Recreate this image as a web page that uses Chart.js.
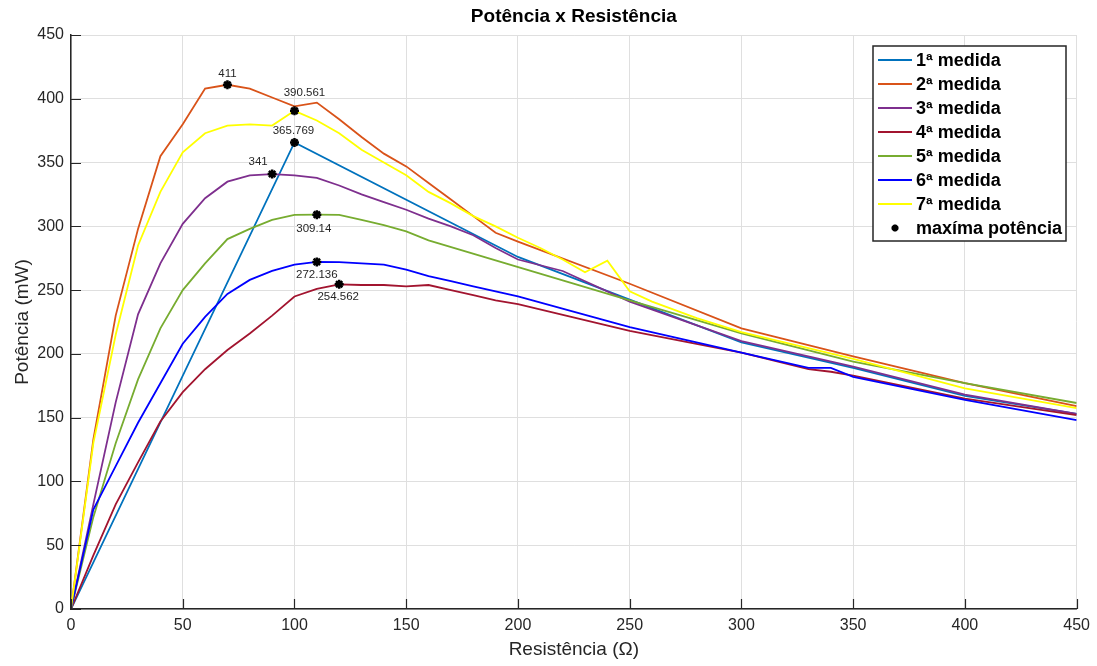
<!DOCTYPE html>
<html>
<head>
<meta charset="utf-8">
<script src="https://cdn.jsdelivr.net/npm/chart.js@4.4.1/dist/chart.umd.min.js"></script>
<style>
  html, body { margin: 0; padding: 0; background: #fff; }
</style>
</head>
<body>
<canvas id="myChart" width="1097" height="666"></canvas>
<script>
// Resistência (Ω) / Potência (mW) por medida
const seriesLabels = ['1ª medida', '2ª medida', '3ª medida', '4ª medida', '5ª medida', '6ª medida', '7ª medida'];
const seriesColors = ['#0072BD', '#D95319', '#7E2F8E', '#A2142F', '#77AC30', '#0000FF', '#FFFF00'];

const r1 = [0, 100, 200, 300, 350, 400, 450];
const p1 = [0, 365.769, 276, 209, 189, 167, 153];

const r2 = [0, 10, 20, 30, 40, 50, 60, 70, 80, 90, 100, 110, 120, 130, 140, 150, 160, 170, 180, 190, 200, 250, 300, 350, 400, 450];
const p2 = [0, 133, 230, 298, 355, 380, 408, 411, 408, 401, 394, 397, 384, 370, 357, 347, 334, 321, 308, 295, 288, 255, 220, 198, 177, 159];

const r3 = [0, 10, 20, 30, 40, 50, 60, 70, 80, 90, 100, 110, 120, 130, 140, 150, 160, 170, 180, 190, 200, 220, 250, 300, 350, 400, 450];
const p3 = [0, 82, 162, 231, 271, 302, 322, 335, 340, 341, 340, 338, 332, 325, 319, 313, 306, 300, 293, 283, 274, 265, 241, 210, 190, 168, 153];

const r4 = [0, 10, 20, 30, 40, 50, 60, 70, 80, 90, 100, 110, 120, 130, 140, 150, 160, 170, 180, 190, 200, 250, 300, 330, 340, 350, 400, 450];
const p4 = [0, 42, 82, 115, 147, 170, 188, 203, 216, 230, 245, 251, 254.562, 254, 254, 253, 254, 250, 246, 242, 239, 218, 201, 188, 186, 183, 165, 152];

const r5 = [0, 10, 20, 30, 40, 50, 60, 70, 80, 90, 100, 110, 120, 130, 140, 150, 160, 250, 300, 350, 400, 450];
const p5 = [0, 72, 130, 180, 220, 250, 271, 290, 298, 305, 309, 309.14, 309, 305, 301, 296, 289, 242, 216, 194, 177, 161.5];

const r6 = [0, 10, 20, 30, 40, 50, 60, 70, 80, 90, 100, 110, 120, 130, 140, 150, 160, 170, 180, 190, 200, 250, 300, 330, 340, 350, 400, 450];
const p6 = [0, 78, 112, 146, 177, 208, 229, 247, 258, 265, 270, 272.136, 272, 271, 270, 266, 261, 257, 253, 249, 245, 221, 201, 189, 189, 182, 164, 148];

const r7 = [0, 10, 20, 30, 40, 50, 60, 70, 80, 90, 100, 110, 120, 130, 140, 150, 160, 170, 180, 190, 200, 210, 220, 230, 240, 250, 260, 280, 300, 350, 400, 450];
const p7 = [0, 130, 215, 285, 327, 358, 373, 379, 380, 379, 390.561, 383, 373, 360, 350, 340, 327, 318, 308, 300, 291, 283, 274, 264, 273, 249, 241, 228, 217, 196, 173, 157.5];

// pontos de máxima potência
const maxR = [70, 100, 100, 90, 110, 110, 120];
const maxP = [411, 390.561, 365.769, 341, 309.14, 272.136, 254.562];

const xTicks = [0, 50, 100, 150, 200, 250, 300, 350, 400, 450];
const yTicks = [0, 50, 100, 150, 200, 250, 300, 350, 400, 450];

const rs = [r1, r2, r3, r4, r5, r6, r7];
const ps = [p1, p2, p3, p4, p5, p6, p7];

const fontFamily = "'Liberation Sans', Arial, sans-serif";
const axisColor = '#262626';

const toXY = (xs, ys) => xs.map((x, i) => ({ x: x, y: ys[i] }));

const datasets = seriesLabels.map((label, i) => ({
	type: 'line',
	label: label,
	data: toXY(rs[i], ps[i]),
	borderColor: seriesColors[i],
	backgroundColor: seriesColors[i],
	borderWidth: 1.8,
	pointRadius: 0,
	tension: 0,
	order: 7 - i
}));

datasets.push({
	type: 'scatter',
	label: 'maxíma potência',
	data: toXY(maxR, maxP),
	showLine: false,
	pointStyle: 'star',
	pointRadius: 4.5,
	borderWidth: 2.5,
	borderColor: '#000',
	backgroundColor: '#000',
	order: 0
});

// label offsets (px) for the max-power annotations
const labelOffsets = [[0, -11], [10, -18], [-1, -12], [-14, -12], [-3, 14], [0, 13], [-1, 13]];

const drawStar = (ctx, x, y, r) => {
	ctx.beginPath();
	ctx.moveTo(x - r, y); ctx.lineTo(x + r, y);
	ctx.moveTo(x, y - r); ctx.lineTo(x, y + r);
	const d = r * Math.SQRT1_2;
	ctx.moveTo(x - d, y - d); ctx.lineTo(x + d, y + d);
	ctx.moveTo(x - d, y + d); ctx.lineTo(x + d, y - d);
	ctx.stroke();
};

const extrasPlugin = {
	id: 'extras',
	afterDatasetsDraw(chart) {
		const ctx = chart.ctx;
		const xs = chart.scales.x, ys = chart.scales.y;
		const area = chart.chartArea;
		ctx.save();

		// title, centred over the plot area
		ctx.fillStyle = '#000';
		ctx.font = 'bold 19px ' + fontFamily;
		ctx.textAlign = 'center';
		ctx.textBaseline = 'middle';
		ctx.fillText('Potência x Resistência', (area.left + area.right) / 2, 17);

		// inner tick marks
		ctx.strokeStyle = axisColor;
		ctx.lineWidth = 1.2;
		ctx.beginPath();
		xTicks.forEach(v => {
			const px = Math.round(xs.getPixelForValue(v)) + 0.5;
			ctx.moveTo(px, area.bottom);
			ctx.lineTo(px, area.bottom - 10);
		});
		yTicks.forEach(v => {
			const py = Math.round(ys.getPixelForValue(v)) + 0.5;
			ctx.moveTo(area.left, py);
			ctx.lineTo(area.left + 10, py);
		});
		ctx.stroke();

		// annotations
		ctx.fillStyle = axisColor;
		ctx.font = '11.5px ' + fontFamily;
		maxP.forEach((v, i) => {
			const px = xs.getPixelForValue(maxR[i]);
			const py = ys.getPixelForValue(v);
			ctx.fillText(String(v), px + labelOffsets[i][0], py + labelOffsets[i][1]);
		});

		// legend box
		const box = { left: 873, top: 46, width: 193, height: 195 };
		ctx.fillStyle = '#fff';
		ctx.fillRect(box.left, box.top, box.width, box.height);
		ctx.strokeStyle = axisColor;
		ctx.lineWidth = 1.5;
		ctx.strokeRect(box.left, box.top, box.width, box.height);

		ctx.font = 'bold 18px ' + fontFamily;
		ctx.textAlign = 'left';
		chart.data.datasets.forEach((ds, i) => {
			const yRow = 60 + i * 24;
			if (ds.type === 'line') {
				ctx.strokeStyle = ds.borderColor;
				ctx.lineWidth = 1.8;
				ctx.beginPath();
				ctx.moveTo(878, yRow);
				ctx.lineTo(912, yRow);
				ctx.stroke();
			} else {
				ctx.strokeStyle = '#000';
				ctx.lineWidth = 2.5;
				drawStar(ctx, 895, yRow, 3.5);
			}
			ctx.fillStyle = '#000';
			ctx.fillText(ds.label, 916, yRow + 1);
		});
		ctx.restore();
	}
};

new Chart(document.getElementById('myChart').getContext('2d'), {
	data: { datasets: datasets },
	options: {
		responsive: false,
		animation: false,
		layout: { padding: { left: 0, right: 20, top: 35, bottom: 0 } },
		scales: {
			x: {
				type: 'linear',
				min: 0,
				max: 450,
				afterBuildTicks: s => { s.ticks = xTicks.map(v => ({ value: v })); },
				afterFit: s => { s.height = 57; },
				grid: { color: '#dfdfdf', lineWidth: 1, drawTicks: false },
				border: { color: axisColor, width: 1.5 },
				ticks: { color: axisColor, padding: 7, font: { family: fontFamily, size: 16 }, maxRotation: 0 },
				title: {
					display: true,
					text: 'Resistência (Ω)',
					color: axisColor,
					font: { family: fontFamily, size: 19 },
					padding: { top: 0, bottom: 5 }
				}
			},
			y: {
				type: 'linear',
				min: 0,
				max: 450,
				afterBuildTicks: s => { s.ticks = yTicks.map(v => ({ value: v })); },
				afterFit: s => { s.width = 71; },
				grid: { color: '#dfdfdf', lineWidth: 1, drawTicks: false },
				border: { color: axisColor, width: 1.5 },
				ticks: { color: axisColor, padding: 7, font: { family: fontFamily, size: 16 } },
				title: {
					display: true,
					text: 'Potência (mW)',
					color: axisColor,
					font: { family: fontFamily, size: 19 },
					padding: { top: 11, bottom: 0 }
				}
			}
		},
		plugins: {
			legend: { display: false },
			tooltip: { enabled: false },
			title: { display: false }
		}
	},
	plugins: [extrasPlugin]
});
</script>
</body>
</html>
